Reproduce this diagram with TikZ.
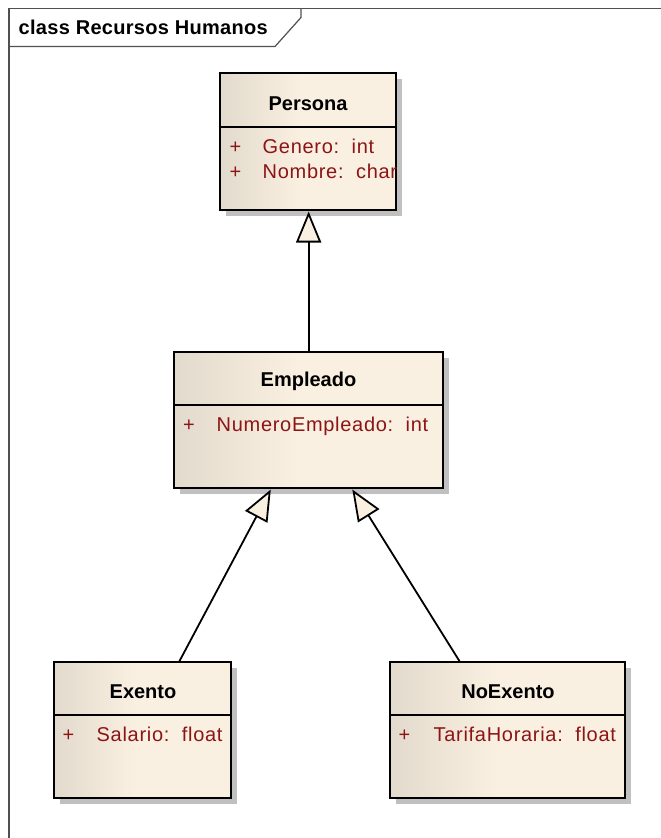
\documentclass[tikz,border=0pt]{standalone}
\usepackage{fontspec}
\setmainfont{Liberation Sans}
\newfontfamily\attrfont[LetterSpace=3.5]{Liberation Sans}
\newfontfamily\framefont[LetterSpace=1.5]{Liberation Sans}
\usetikzlibrary{arrows.meta,shadows}

\definecolor{umldark}{RGB}{226,218,204}
\definecolor{umllight}{RGB}{250,240,226}
\definecolor{attrred}{RGB}{140,20,20}
\definecolor{framegray}{RGB}{80,80,80}
\definecolor{shadowgray}{RGB}{192,192,192}

% class body: darker beige on the left fading to light cream
\pgfdeclarehorizontalshading{classfill}{100bp}{color(0bp)=(umldark); color(25bp)=(umldark); color(48bp)=(umllight); color(100bp)=(umllight)}

\begin{document}
\begin{tikzpicture}[x=1pt,y=-1pt,
  classbox/.style={draw=black, line width=2pt, shade, shading=classfill,
    inner sep=0pt, outer sep=0pt, anchor=north west,
    drop shadow={shadow xshift=6pt, shadow yshift=-6pt, fill=shadowgray, opacity=1}},
  sepline/.style={line width=2pt, draw=black},
  classname/.style={anchor=base, inner sep=0pt, font=\fontsize{20}{24}\selectfont\bfseries},
  attr/.style={anchor=base west, inner sep=0pt, text=attrred, font=\attrfont\fontsize{20}{24}\selectfont},
  inherit/.style={line width=1.8pt, draw=black, -{Triangle[length=31pt,width=25pt,fill=umllight]}},
  frameline/.style={draw=framegray, line width=1.2pt},
  frametitle/.style={anchor=base west, inner sep=0pt, font=\framefont\fontsize{20}{24}\selectfont\bfseries}
]
\fill[white] (0,0) rectangle (661,838);
\useasboundingbox (0,0) rectangle (661,838);

% diagram frame with its name tab
\draw[frameline] (9,838) -- (9,8.5) -- (661,8.5);
\draw[frameline] (9,46.5) -- (275,46.5) -- (301,17.5) -- (301,8.5);
\node[frametitle] (frametitle) at (18.5,34.3) {class Recursos Humanos};

% classes
\node[classbox, minimum width=176pt, minimum height=137pt] (persona) at (220,73) {};
\node[classbox, minimum width=268.7pt, minimum height=136pt] (empleado) at (174.3,352) {};
\node[classbox, minimum width=177pt, minimum height=136pt] (exento) at (53.7,662) {};
\node[classbox, minimum width=235pt, minimum height=136pt] (noexento) at (390,662) {};

% name / attribute compartments
\draw[sepline] ([yshift=-54pt]persona.north west) -- ([yshift=-54pt]persona.north east);
\draw[sepline] ([yshift=-52.5pt]empleado.north west) -- ([yshift=-52.5pt]empleado.north east);
\draw[sepline] ([yshift=-53pt]exento.north west) -- ([yshift=-53pt]exento.north east);
\draw[sepline] ([yshift=-53pt]noexento.north west) -- ([yshift=-53pt]noexento.north east);

% Persona
\node[classname] (personaname) at (308,110) {Persona};
\node[attr] (pa1) at (229.5,153) {+};
\node[attr] (pa1n) at (262.5,153) {Genero:\ \ int};
\node[attr] (pa2) at (229.5,178.3) {+};
\node[attr] (pa2n) at (262.5,178.3) {Nombre:\ \ char};

% Empleado
\node[classname] (empleadoname) at (308.5,386.7) {Empleado};
\node[attr] (ea1) at (183,431) {+};
\node[attr] (ea1n) at (216.5,431) {NumeroEmpleado:\ \ int};

% Exento
\node[classname] (exentoname) at (143,698) {Exento};
\node[attr] (xa1) at (62.5,741.5) {+};
\node[attr] (xa1n) at (96.5,741.5) {Salario:\ \ float};

% NoExento
\node[classname] (noexentoname) at (508,698) {NoExento};
\node[attr] (na1) at (398.5,741.5) {+};
\node[attr] (na1n) at (433.5,741.5) {TarifaHoraria:\ \ float};

% generalizations
\draw[inherit] (empleado.north) -- ([yshift=-1.5pt]empleado.north |- persona.south);
\draw[inherit] ([xshift=125.3pt]exento.north west) -- ([xshift=96.5pt,yshift=-1.5pt]empleado.south west);
\draw[inherit] ([xshift=70pt]noexento.north west) -- ([xshift=178pt,yshift=-1.5pt]empleado.south west);
\end{tikzpicture}
\end{document}
